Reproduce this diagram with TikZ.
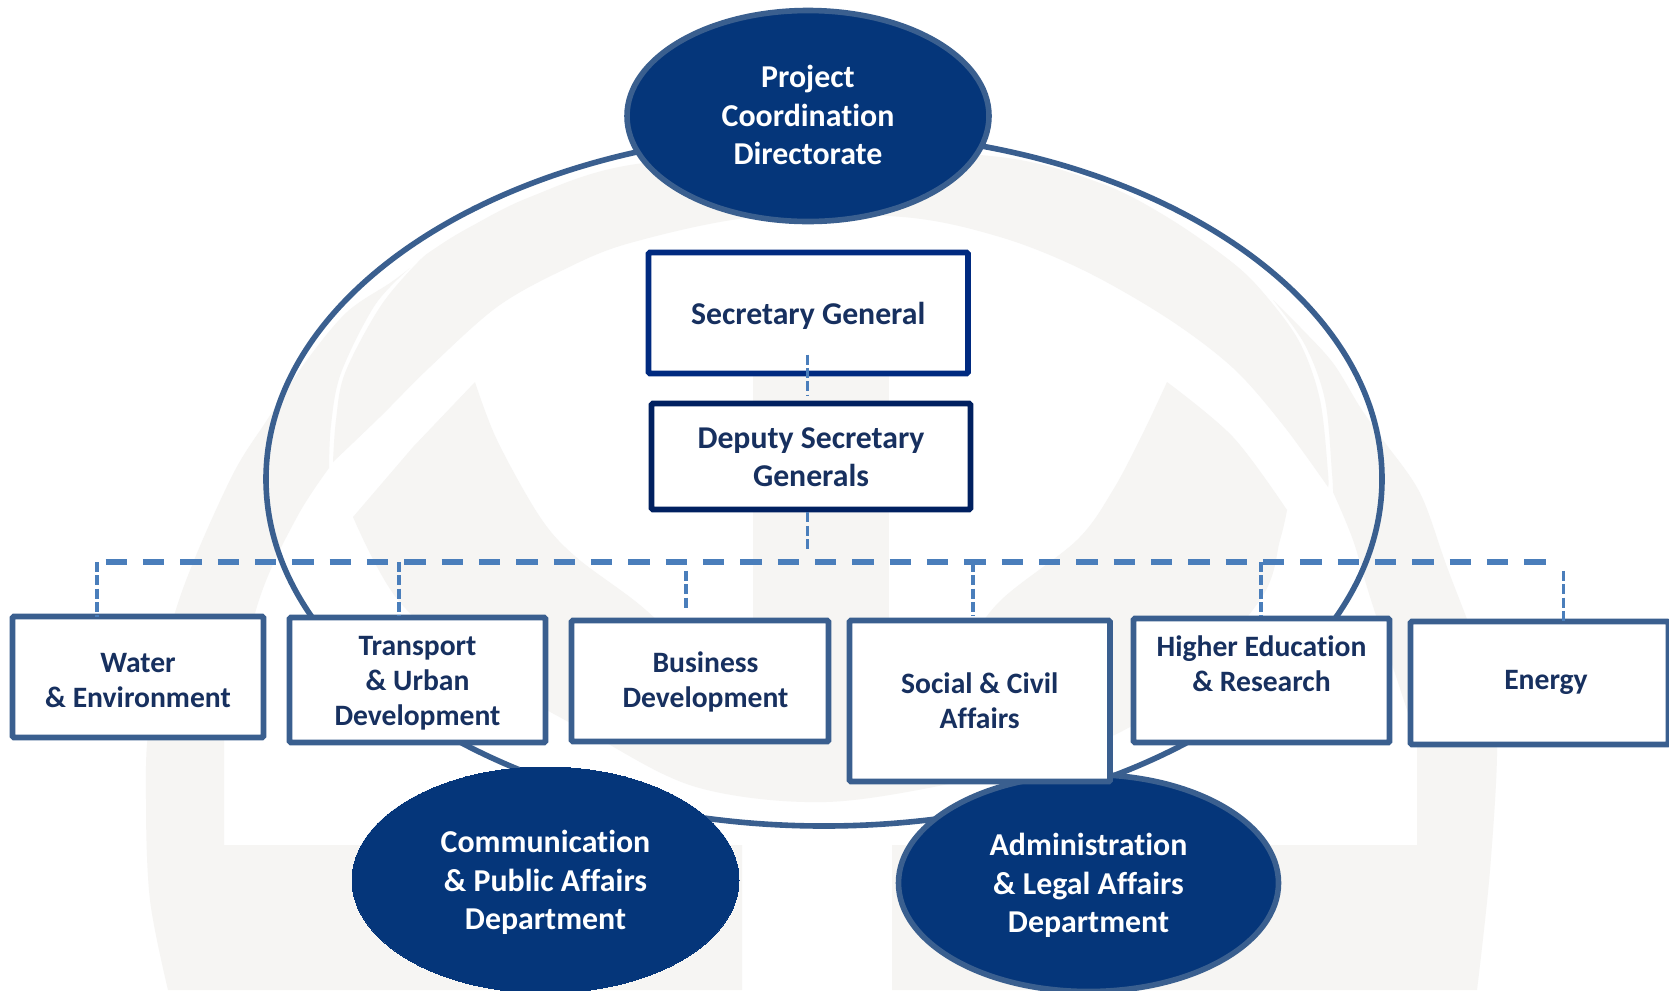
\documentclass[tikz,border=0pt]{standalone}
\usepackage{fontspec}
\setmainfont{Carlito}[Ligatures={NoCommon}]
\usetikzlibrary{shapes.geometric}
\definecolor{wmgray}{HTML}{F6F5F3}
\definecolor{ringblue}{HTML}{3A5F8F}
\definecolor{ellblue}{HTML}{05367A}
\definecolor{dashblue}{HTML}{4A7EBB}
\definecolor{sgblue}{HTML}{002A80}
\definecolor{dsgblue}{HTML}{002060}
\definecolor{inkblue}{HTML}{17305F}
% label centred at the node's centre, moved by #1 px sideways and lifted by #2 px
\newcommand\lab[3][0]{\makebox[0pt][c]{\kern#1\dimexpr1.5pt\relax\raisebox{\dimexpr#2\dimexpr0.75pt\relax-0.37em\relax}[0pt][0pt]{\begin{tabular}[c]{@{}c@{}}#3\end{tabular}}}}
\tikzset{
  x=0.75pt,y=-0.75pt,
  sizepx/.style 2 args={minimum width=#1*0.75pt,minimum height=#2*0.75pt},
  orgbox/.style={rectangle,draw=ringblue,fill=white,line width=4.3pt,rounded corners=1pt,inner sep=0pt,outer sep=0pt,text=inkblue,
     font=\fontsize{22.2pt}{26.3pt}\selectfont\bfseries},
  leadbox/.style={orgbox,font=\fontsize{23.8pt}{28pt}\selectfont\bfseries},
  bluell/.style={ellipse,draw=ringblue,fill=ellblue,line width=4.2pt,inner sep=0pt,outer sep=0pt,text=white,
     font=\fontsize{23.9pt}{28.7pt}\selectfont\bfseries},
  plainell/.style={bluell,draw=ellblue,line width=0pt},
  bigring/.style={ellipse,draw=ringblue,line width=4.2pt,inner sep=0pt,outer sep=0pt},
  trunkline/.style={draw=dashblue,line width=4.8pt,dash pattern=on 16.1pt off 11.9pt},
  dropline/.style={draw=dashblue,line width=2.5pt,dash pattern=on 7.5pt off 2.5pt},
  wm/.style={fill=wmgray,draw=none},
  sm/.style={smooth,tension=0.55},
}
\begin{document}
\begin{tikzpicture}
\useasboundingbox (0,0) rectangle (1669,990);
\clip (0,0) rectangle (1669,990);
\fill[white] (0,0) rectangle (1669,990);
% watermark: left leg
\fill[wm] plot[sm] coordinates {(168,990)(150,900)(146,800)(150,720)(179,600)(230,480)(267,420)(307,360)(347,312)(390,283)(410,268)}
  -- plot[sm] coordinates {(410,268)(375,305)(341,373)(331,425)(329,468)}
  -- plot[sm] coordinates {(329,468)(297,517)(259,600)(224,740)}
  -- (224,845) -- (742,845) -- (742,990) -- cycle;
% watermark: right leg
\fill[wm] plot[sm] coordinates {(1477,990)(1490,870)(1497,740)(1485,670)(1447,567)(1420,493)(1383,440)(1360,407)(1333,363)(1300,327)(1273,300)}
  -- plot[sm] coordinates {(1273,300)(1305,345)(1325,400)(1332,473)(1333,492)}
  -- plot[sm] coordinates {(1333,492)(1353,540)(1371,600)(1417,740)}
  -- (1417,845) -- (892,845) -- (892,990) -- cycle;
% watermark: upper band
\fill[wm] plot[sm] coordinates {(333,462)(336,420)(345,373)(380,307)(417,263)(437,247)(470,227)(530,197)(630,165)(820,150)(1000,157)(1100,183)(1167,217)(1233,263)(1267,297)(1300,343)(1320,400)(1328,473)(1328,487)}
  -- plot[sm] coordinates {(1328,487)(1283,425)(1233,368)(1167,318)(1083,270)(1000,237)(903,217)(755,217)(630,243)(563,270)(497,307)(430,367)(380,417)(333,462)}
  -- cycle;
% watermark: bowl and bar
\fill[wm] plot[sm] coordinates {(475,382)(497,440)(540,517)(576,557)(640,605)(700,660)(754,700)(888,700)(952,660)(1001,600)(1077,540)(1113,490)(1143,433)(1167,382)}
  -- plot[sm] coordinates {(1167,382)(1233,437)(1287,510)}
  -- plot[sm] coordinates {(1287,510)(1280,540)(1260,600)(1170,700)(1080,750)(968,780)(826,802)(696,787)(589,733)(480,670)(398,600)(353,517)}
  -- (413,447) -- cycle;
\fill[wm] (753,288) rectangle (889,790);
% ring and ellipses
\node[bigring,sizepx={1116}{694}] (ring) at (824,479) {};
\node[bluell,sizepx={362}{211}] (pcd) at (808,116) {\lab{1}{Project\\Coordination\\Directorate}};
\node[plainell,sizepx={387}{226}] (cpa) at (545.5,880) {\lab{0}{Communication\\\& Public Affairs\\Department}};
\node[bluell,sizepx={380}{217}] (ala) at (1088.5,883) {\lab{0}{Administration\\\& Legal Affairs\\Department}};
% boxes
\node[leadbox,draw=sgblue,sizepx={319.5}{121}] (sg) at (808.25,313) {\lab{-1}{Secretary General}};
\node[leadbox,draw=dsgblue,sizepx={319}{106}] (dsg) at (811,456.5) {\lab{0}{Deputy Secretary\\Generals}};
\node[orgbox,sizepx={251}{121}] (water) at (138,677) {\lab{-2}{Water\\\& Environment}};
\node[orgbox,sizepx={256}{125}] (transport) at (417.5,680) {\lab{1}{Transport\\\& Urban\\Development}};
\node[orgbox,sizepx={257}{121}] (business) at (700,681) {\lab[5.5]{2}{Business\\Development}};
\node[orgbox,sizepx={260.5}{161}] (social) at (979.75,701) {\lab{1}{Social \& Civil\\Affairs}};
\node[orgbox,sizepx={256}{124}] (higher) at (1261.5,680.5) {\lab{18}{Higher Education\\\& Research}};
\node[orgbox,sizepx={258}{123}] (energy) at (1539.5,683) {\lab[6.5]{5}{Energy}};
% connectors
\coordinate (tl) at (105.5,562);
\coordinate (tr) at (1546,562);
\coordinate (tw) at (97,562);
\coordinate (tt) at (399,562);
\coordinate (tb) at (686,562);
\coordinate (ts) at (973,562);
\coordinate (th) at (1261,562);
\coordinate (te) at (1563.5,562);
\coordinate (tc) at (807.6,562);
\draw[trunkline] (tl) -- (tr);
\draw[dropline,shorten <=-14.2pt,shorten >=6pt] (tc |- sg.south) -- (tc |- dsg.north);
\draw[dropline,shorten <=2.2pt,shorten >=8.2pt] (tc |- dsg.south) -- (tc);
\draw[dropline] (tw) -- (tw |- water.north);
\draw[dropline,shorten >=1.5pt] (tt) -- (tt |- transport.north);
\draw[dropline,shorten <=6.7pt,shorten >=7.5pt] (tb) -- (tb |- business.north);
\draw[dropline,shorten >=3.5pt] (ts) -- (ts |- social.north);
\draw[dropline,shorten >=2pt] (th) -- (th |- higher.north);
\draw[dropline,shorten <=6.7pt] (te) -- (te |- energy.north);
\end{tikzpicture}
\end{document}
